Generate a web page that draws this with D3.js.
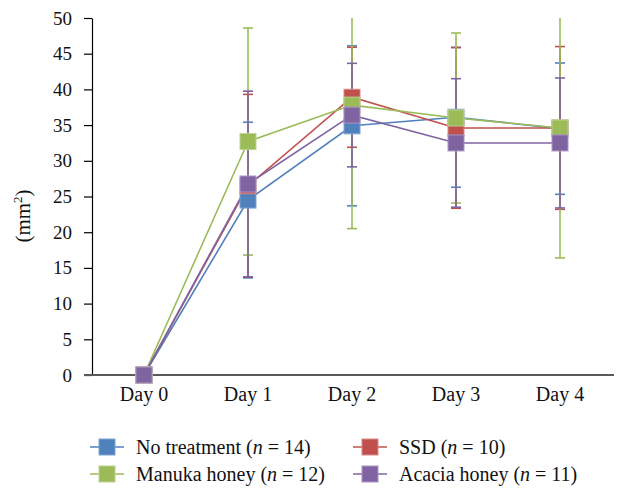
<!DOCTYPE html>
<html lang="en">
<head>
<meta charset="UTF-8">
<title>Wound area by day</title>
<script src="https://d3js.org/d3.v7.min.js"></script>
<style>
  body { margin: 0; background: #fff; }
</style>
</head>
<body>
<div id="chart"></div>
<script>
// categories
const days = ["Day 0", "Day 1", "Day 2", "Day 3", "Day 4"];

// means (mm^2) and standard deviations
const noTreatment   = [0, 24.5, 34.9, 36.1, 34.5];
const noTreatmentSD = [0, 10.9, 11.2, 9.8, 9.2];
const ssd           = [0, 26.5, 38.9, 34.6, 34.6];
const ssdSD         = [0, 12.8, 7.0, 11.25, 11.4];
const manuka        = [0, 32.7, 37.8, 36.0, 34.6];
const manukaSD      = [0, 15.9, 17.3, 11.9, 18.2];
const acacia        = [0, 26.75, 36.4, 32.5, 32.5];
const acaciaSD      = [0, 13.0, 7.25, 9.0, 9.1];

const yTicks = [0, 5, 10, 15, 20, 25, 30, 35, 40, 45, 50];

// series in Excel drawing order
const series = [
  { name: "No treatment", n: 14, mean: noTreatment, sd: noTreatmentSD, color: "#4f81bd", edge: "#7fa3d0" },
  { name: "SSD",          n: 10, mean: ssd,         sd: ssdSD,         color: "#c0504d", edge: "#d88a88" },
  { name: "Manuka honey", n: 12, mean: manuka,      sd: manukaSD,      color: "#9bbb59", edge: "#bcd38f" },
  { name: "Acacia honey", n: 11, mean: acacia,      sd: acaciaSD,      color: "#8064a2", edge: "#a995c2" }
];

const serif = '"Liberation Serif", "Times New Roman", serif';
const width = 621, height = 488;
const plotLeft = 92, plotRight = 612, plotTop = 18, plotBottom = 375;

const svg = d3.select("#chart").append("svg")
  .attr("width", width)
  .attr("height", height);

const x = d3.scaleBand().domain(days).range([plotLeft, plotRight]);
const y = d3.scaleLinear().domain([0, 50]).range([plotBottom, plotTop]);
const cx = d => x(d) + x.bandwidth() / 2;
const clampY = v => y(Math.max(0, Math.min(50, v)));

// y axis
const yAxis = svg.append("g")
  .attr("transform", `translate(${plotLeft},0)`)
  .call(d3.axisLeft(y).tickValues(yTicks).tickSize(8).tickSizeOuter(0).tickPadding(12));
yAxis.select(".domain").attr("stroke", "#000").attr("stroke-width", 1.2);
yAxis.selectAll(".tick line").attr("stroke", "#000").attr("stroke-width", 1.2);
yAxis.selectAll(".tick text")
  .style("font-family", serif)
  .style("font-size", "19px")
  .attr("fill", "#111");

// x axis (labels only, plus the grey baseline)
const xAxis = svg.append("g")
  .attr("transform", `translate(0,${plotBottom})`)
  .call(d3.axisBottom(x).tickSize(0).tickPadding(12));
xAxis.select(".domain").remove();
xAxis.selectAll(".tick text")
  .style("font-family", serif)
  .style("font-size", "20px")
  .attr("fill", "#111");

svg.append("line")
  .attr("x1", plotLeft - 8).attr("x2", plotRight + 2)
  .attr("y1", plotBottom).attr("y2", plotBottom)
  .attr("stroke", "#595959").attr("stroke-width", 2);

// y axis title
const yTitle = svg.append("text")
  .attr("transform", `translate(30,216) rotate(-90)`)
  .attr("text-anchor", "middle")
  .attr("fill", "#111")
  .style("font-family", serif)
  .style("font-size", "21px");
yTitle.append("tspan").text("(mm");
yTitle.append("tspan").attr("dy", -8).style("font-size", "13px").text("2");
yTitle.append("tspan").attr("dy", 8).text(")");

// error bars
series.forEach(s => {
  const g = svg.append("g").attr("stroke", s.color).attr("stroke-width", 1.6);
  days.forEach((d, i) => {
    if (!s.sd[i]) return;
    const hi = s.mean[i] + s.sd[i], lo = s.mean[i] - s.sd[i];
    g.append("line")
      .attr("x1", cx(d)).attr("x2", cx(d))
      .attr("y1", clampY(hi)).attr("y2", clampY(lo));
    if (hi <= 50) g.append("line")
      .attr("x1", cx(d) - 5).attr("x2", cx(d) + 5)
      .attr("y1", y(hi)).attr("y2", y(hi));
    if (lo >= 0) g.append("line")
      .attr("x1", cx(d) - 5).attr("x2", cx(d) + 5)
      .attr("y1", y(lo)).attr("y2", y(lo));
  });
});

// lines
const line = d3.line().x((v, i) => cx(days[i])).y(v => y(v));
series.forEach(s => {
  svg.append("path")
    .datum(s.mean)
    .attr("d", line)
    .attr("fill", "none")
    .attr("stroke", s.color)
    .attr("stroke-width", 1.6);
});

// markers
const ms = 16;
series.forEach(s => {
  svg.append("g").selectAll("rect")
    .data(s.mean)
    .join("rect")
    .attr("x", (v, i) => cx(days[i]) - ms / 2)
    .attr("y", v => y(v) - ms / 2)
    .attr("width", ms).attr("height", ms)
    .attr("fill", s.color)
    .attr("stroke", s.edge)
    .attr("stroke-width", 1);
});

// legend, two columns filled row by row
const legendPos = [[90, 447], [353, 447], [90, 474], [353, 474]];
series.forEach((s, i) => {
  const [lx, ly] = legendPos[i];
  const g = svg.append("g").attr("transform", `translate(${lx},${ly})`);
  g.append("line").attr("x1", 0).attr("x2", 34).attr("y1", 0).attr("y2", 0)
    .attr("stroke", s.color).attr("stroke-width", 1.6);
  g.append("rect").attr("x", 9).attr("y", -8).attr("width", 16).attr("height", 16)
    .attr("fill", s.color).attr("stroke", s.edge).attr("stroke-width", 1);
  const t = g.append("text").attr("x", 46).attr("y", 6.5)
    .attr("fill", "#111")
    .style("font-family", serif)
    .style("font-size", "20px");
  t.append("tspan").text(s.name + " (");
  t.append("tspan").style("font-style", "italic").text("n");
  t.append("tspan").text(" = " + s.n + ")");
});
</script>
</body>
</html>
